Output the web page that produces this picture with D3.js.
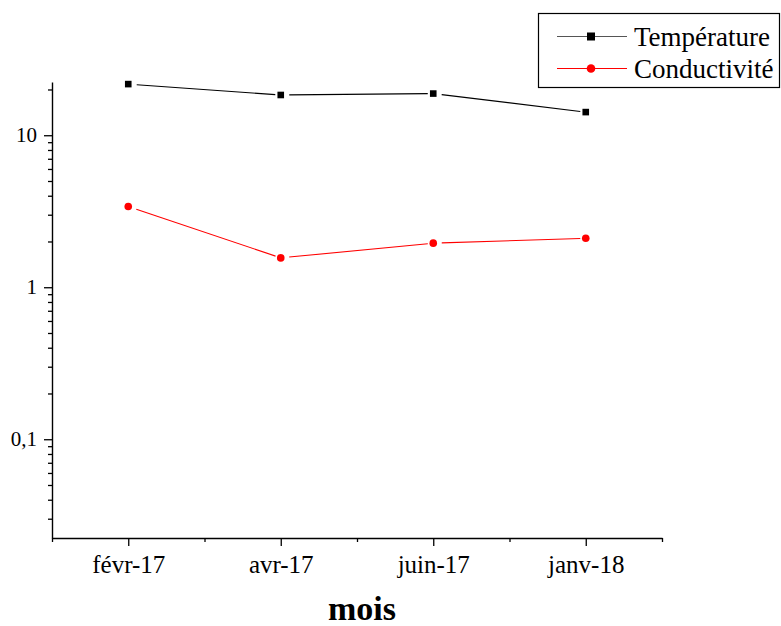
<!DOCTYPE html>
<html>
<head>
<meta charset="utf-8">
<script src="https://cdn.jsdelivr.net/npm/d3@7"></script>
<style>
  body { margin: 0; background: #fff; }
  svg { display: block; font-family: "Liberation Serif", "Times New Roman", serif; }
  svg text { font-family: "Liberation Serif", "Times New Roman", serif; }
</style>
</head>
<body>
<svg id="chart" width="781" height="626"></svg>
<script>
// data
const months = ["févr-17", "avr-17", "juin-17", "janv-18"];
const temperature = [21.7, 18.4, 18.8, 14.2];
const conductivite = [3.4, 1.56, 1.95, 2.1];
const yTicks = [0.1, 1, 10];
const yTickLabels = ["0,1", "1", "10"];

var margin = { top: 82, left: 52, right: 119, bottom: 88 },
    width = 781 - margin.left - margin.right,
    height = 626 - margin.top - margin.bottom;

var svg = d3.select("#chart");
var g = svg.append("g").attr("transform", "translate(" + margin.left + "," + margin.top + ")");

var x = d3.scaleLinear().domain([0.5, months.length + 0.5]).range([0, width]);
var y = d3.scaleLog().domain([0.0224, 22.4]).range([height, 0]);

// minor ticks for the log axis (2..9 in each decade)
var minorY = [];
[0.01, 0.1, 1, 10].forEach(function(d) {
  for (var k = 2; k <= 9; k++) {
    var v = d * k;
    if (v >= y.domain()[0] && v <= y.domain()[1]) minorY.push(v);
  }
});

// y axis
g.append("g")
  .call(d3.axisLeft(y).tickValues(minorY).tickSize(4).tickFormat(""))
  .call(function(a) { a.select(".domain").remove(); })
  .selectAll("line").attr("stroke-width", 1.3);

var yAxis = g.append("g")
  .call(d3.axisLeft(y).tickValues(yTicks).tickSize(8).tickSizeOuter(0)
    .tickFormat(function(d, i) { return yTickLabels[i]; }));
yAxis.attr("font-family", null);
yAxis.select(".domain").attr("stroke-width", 1.4);
yAxis.selectAll("line").attr("stroke-width", 1.3);
yAxis.selectAll("text")
  .style("font-family", "'Liberation Serif', 'Times New Roman', serif")
  .style("font-size", "21px").attr("fill", "#000").attr("x", -15);

// x axis
var xMinor = d3.range(0.5, months.length + 1, 1);
g.append("g").attr("transform", "translate(0," + height + ")")
  .call(d3.axisBottom(x).tickValues(xMinor).tickSize(4).tickFormat(""))
  .call(function(a) { a.select(".domain").remove(); })
  .selectAll("line").attr("stroke-width", 1.3);

var xAxis = g.append("g").attr("transform", "translate(0," + height + ")")
  .call(d3.axisBottom(x).tickValues(d3.range(1, months.length + 1)).tickSize(8).tickSizeOuter(0)
    .tickFormat(function(d) { return months[d - 1]; }));
xAxis.attr("font-family", null);
xAxis.select(".domain").attr("stroke-width", 1.4);
xAxis.selectAll("line").attr("stroke-width", 1.3);
xAxis.selectAll("text")
  .style("font-family", "'Liberation Serif', 'Times New Roman', serif")
  .style("font-size", "25px").attr("fill", "#000").attr("y", 17);

// axis title
svg.append("text")
  .attr("x", 362).attr("y", 620)
  .attr("text-anchor", "middle")
  .attr("font-size", 34).attr("font-weight", "bold")
  .text("mois");

// segments with a small gap around each marker
function drawSeries(values, color) {
  var pts = values.map(function(v, i) { return [x(i + 1), y(v)]; });
  var segs = [];
  for (var i = 0; i < pts.length - 1; i++) {
    var p0 = pts[i], p1 = pts[i + 1];
    var dx = p1[0] - p0[0], dy = p1[1] - p0[1];
    var len = Math.sqrt(dx * dx + dy * dy);
    var ux = dx / len, uy = dy / len;
    segs.push([p0[0] + ux * 8.5, p0[1] + uy * 8.5, p1[0] - ux * 5.5, p1[1] - uy * 5.5]);
  }
  g.selectAll(null).data(segs).enter().append("line")
    .attr("x1", function(d) { return d[0]; })
    .attr("y1", function(d) { return d[1]; })
    .attr("x2", function(d) { return d[2]; })
    .attr("y2", function(d) { return d[3]; })
    .attr("stroke", color).attr("stroke-width", 1.1);
  return pts;
}

var tPts = drawSeries(temperature, "#000");
g.selectAll(".temp-marker").data(tPts).enter().append("rect")
  .attr("x", function(d) { return d[0] - 3.3; })
  .attr("y", function(d) { return d[1] - 3.3; })
  .attr("width", 6.6).attr("height", 6.6)
  .attr("fill", "#000");

var cPts = drawSeries(conductivite, "#ff0000");
g.selectAll(".cond-marker").data(cPts).enter().append("circle")
  .attr("cx", function(d) { return d[0]; })
  .attr("cy", function(d) { return d[1]; })
  .attr("r", 3.8)
  .attr("fill", "#ff0000");

// legend
var legend = svg.append("g");
legend.append("rect")
  .attr("x", 538.5).attr("y", 13.5).attr("width", 241).attr("height", 74)
  .attr("fill", "#fff").attr("stroke", "#000").attr("stroke-width", 1.2);

var items = [
  { name: "Température", color: "#000", line: "#555", y: 36.5, shape: "square" },
  { name: "Conductivité", color: "#ff0000", line: "#ff0000", y: 68.5, shape: "circle" }
];
items.forEach(function(it) {
  legend.append("line")
    .attr("x1", 557).attr("x2", 627).attr("y1", it.y).attr("y2", it.y)
    .attr("stroke", it.line).attr("stroke-width", 1.1);
  if (it.shape == "square") {
    legend.append("rect").attr("x", 587).attr("y", it.y - 4).attr("width", 8).attr("height", 8).attr("fill", it.color);
  } else {
    legend.append("circle").attr("cx", 591).attr("cy", it.y).attr("r", 4.3).attr("fill", it.color);
  }
  legend.append("text")
    .attr("x", 634).attr("y", it.y + 9)
    .attr("font-size", 27)
    .text(it.name);
});
</script>
</body>
</html>
